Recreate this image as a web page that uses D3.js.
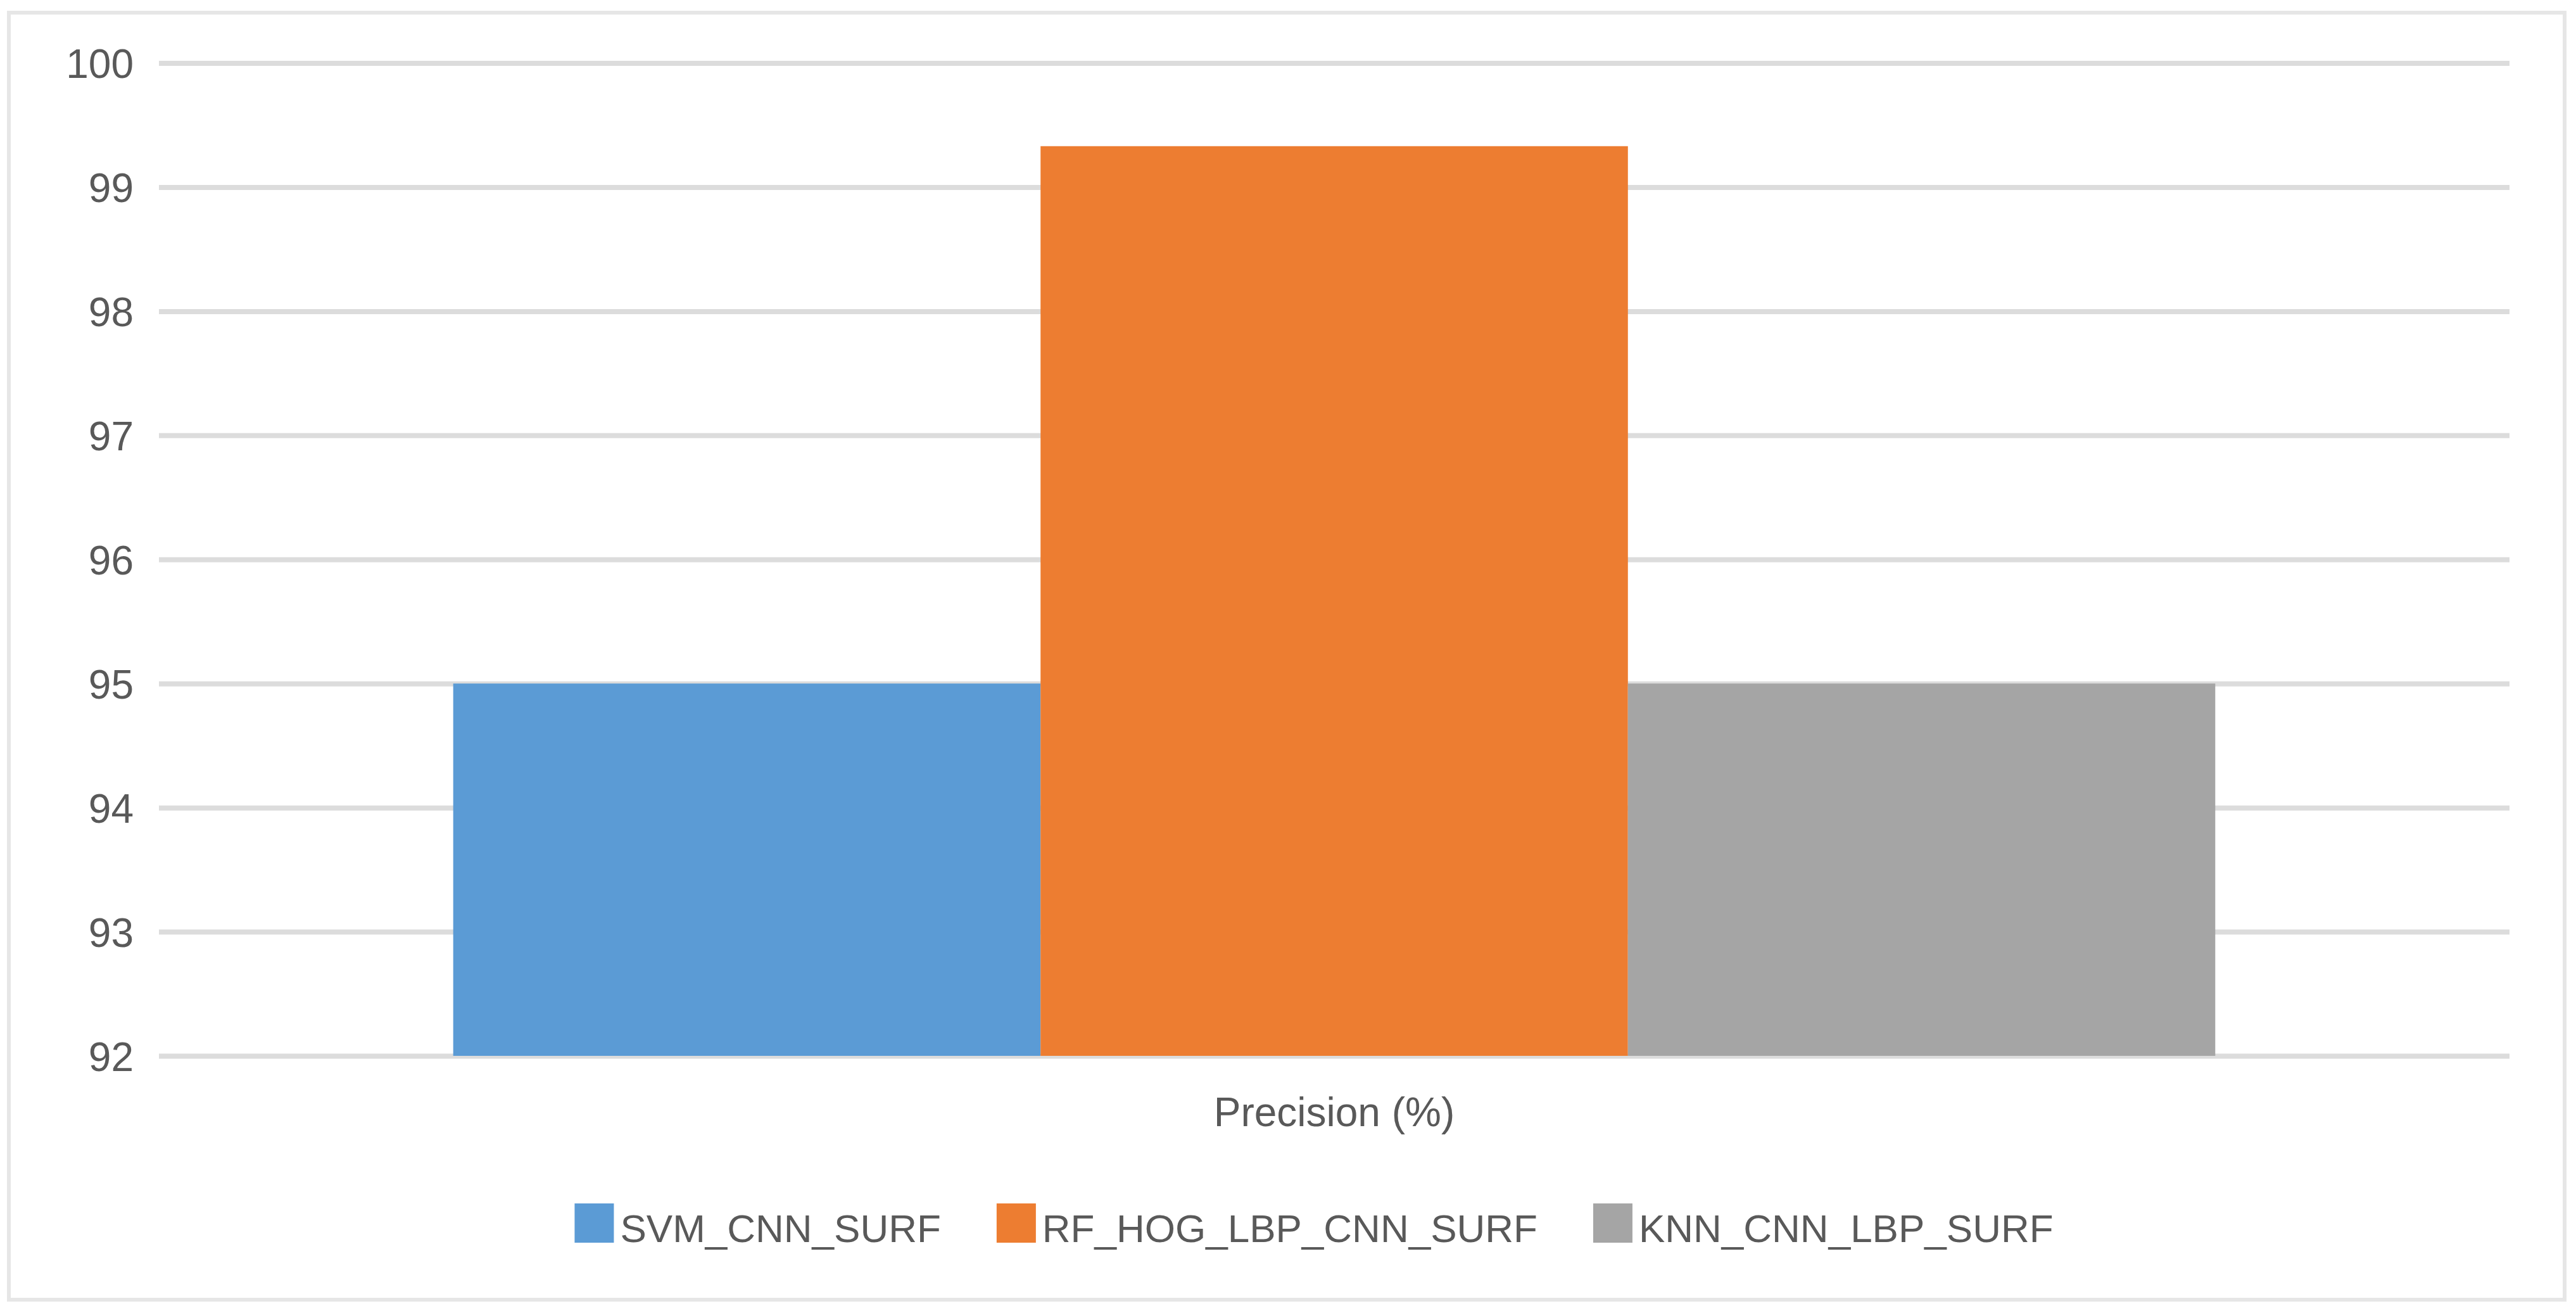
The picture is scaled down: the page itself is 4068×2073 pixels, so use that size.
<!DOCTYPE html>
<html>
<head>
<meta charset="utf-8">
<script src="https://cdn.jsdelivr.net/npm/d3@7"></script>
<style>
  html, body { margin: 0; padding: 0; background: #ffffff; }
  svg { display: block; }
  text { font-family: "Liberation Sans", Arial, sans-serif; fill: #595959; }
</style>
</head>
<body>
<svg id="chart" width="4068" height="2073"></svg>
<script>
// ---- data ----
const categories = ["Precision (%)"];
const seriesNames = ["SVM_CNN_SURF", "RF_HOG_LBP_CNN_SURF", "KNN_CNN_LBP_SURF"];
const seriesValues = [95, 99.33, 95];
const seriesColors = ["#5b9bd5", "#ed7d31", "#a5a5a5"];
const yTicks = [92, 93, 94, 95, 96, 97, 98, 99, 100];

// ---- layout ----
const W = 4068, H = 2073;
const plot = { left: 251, right: 3963, top: 99.5, bottom: 1667 };
const fontSize = 64;
const legendFontSize = 62;

const svg = d3.select("#chart");

// outer frame
svg.append("rect")
  .attr("x", 14).attr("y", 20)
  .attr("width", 4050 - 14).attr("height", 2052 - 20)
  .attr("fill", "#ffffff")
  .attr("stroke", "#e6e6e6")
  .attr("stroke-width", 6);

const y = d3.scaleLinear().domain([92, 100]).range([plot.bottom, plot.top]);
const x0 = d3.scaleBand().domain(categories).range([plot.left, plot.right]).paddingInner(0).paddingOuter(0.167);
const x1 = d3.scaleBand().domain(seriesNames).range([0, x0.bandwidth()]).padding(0);

// gridlines
const yAxis = d3.axisLeft(y).tickValues(yTicks).tickSize(-(plot.right - plot.left)).tickFormat(d3.format("d")).tickPadding(40);
const gy = svg.append("g").attr("transform", `translate(${plot.left},0)`).call(yAxis);
gy.select(".domain").remove();
gy.selectAll(".tick line").attr("stroke", "#dcdcdc").attr("stroke-width", 8);
gy.selectAll(".tick text")
  .attr("font-size", fontSize)
  .attr("fill", "#595959")
  .attr("dy", "0.36em");

// bars
const g = svg.append("g");
categories.forEach((cat) => {
  seriesNames.forEach((s, i) => {
    g.append("rect")
      .attr("x", x0(cat) + x1(s))
      .attr("y", y(seriesValues[i]))
      .attr("width", x1.bandwidth())
      .attr("height", y(92) - y(seriesValues[i]))
      .attr("fill", seriesColors[i]);
  });
});

// x category labels
const xAxis = d3.axisBottom(x0).tickSize(0).tickPadding(0);
const gx = svg.append("g").attr("transform", `translate(0,${plot.bottom})`).call(xAxis);
gx.select(".domain").remove();
gx.selectAll(".tick text")
  .attr("font-size", fontSize)
  .attr("fill", "#595959")
  .attr("y", 111)
  .attr("dy", 0)
  .attr("font-family", "Liberation Sans, Arial, sans-serif");

// legend
const legend = svg.append("g");
const sw = 62, swGap = 10, itemGap = 88;
let cx = 0;
seriesNames.forEach((s, i) => {
  const it = legend.append("g");
  it.append("rect").attr("x", 0).attr("y", 1900).attr("width", sw).attr("height", sw).attr("fill", seriesColors[i]);
  const t = it.append("text").attr("x", sw + swGap).attr("y", 1961).attr("font-size", legendFontSize).text(s);
  const w = sw + swGap + t.node().getComputedTextLength();
  it.attr("transform", `translate(${cx},0)`);
  cx += w + itemGap;
});
const total = cx - itemGap;
legend.attr("transform", `translate(${2075 - total / 2},0)`);
</script>
</body>
</html>
